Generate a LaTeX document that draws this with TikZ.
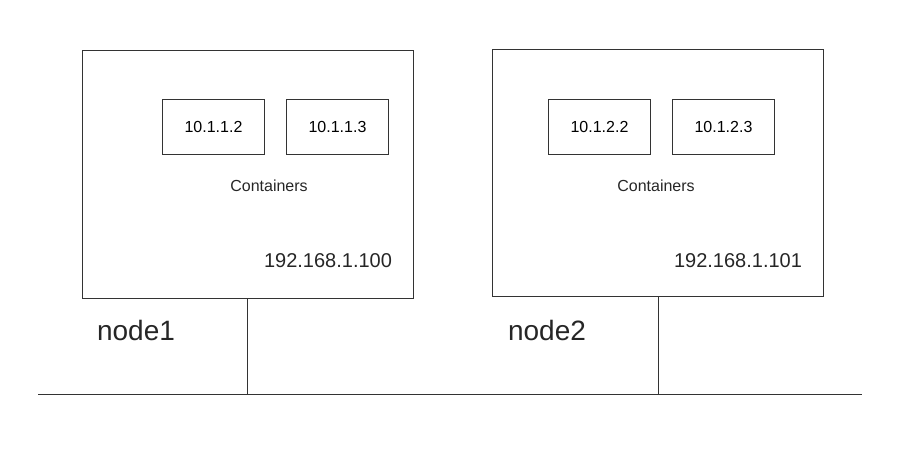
\documentclass[tikz,border=0pt]{standalone}
\usepackage{fontspec}
\setmainfont{Liberation Sans}
\usetikzlibrary{positioning}
\tikzset{
  host/.style={rectangle, draw=black!80, line width=1pt, minimum width=331pt, minimum height=247pt},
  container/.style={rectangle, draw=black!80, line width=1pt, minimum width=102pt, minimum height=55pt, font=\fontsize{16}{19}\selectfont},
  label/.style={font=\fontsize{16}{19}\selectfont, text=black!85},
  ipaddr/.style={font=\fontsize{20}{24}\selectfont, text=black!85},
  hostname/.style={font=\fontsize{28}{32}\selectfont, text=black!85},
  wire/.style={draw=black!80, line width=1pt}
}
\begin{document}
\begin{tikzpicture}[x=1pt, y=-1pt]
    \useasboundingbox (0,0) rectangle (913,452);

    % --- Hosts ---
    \node (host1) [host] at (247.5,174.5) {};
    \node (host2) [host] at (658,173) {};

    % --- Containers in host 1 ---
    \node (c11) [container] at (213.5,126.5) {10.1.1.2};
    \node (c12) [container, right=21pt of c11] {10.1.1.3};
    \node (cont1) [label] at (269,186) {Containers};
    \node (ip1) [ipaddr] at (328,261) {192.168.1.100};

    % --- Containers in host 2 ---
    \node (c21) [container] at (599.5,126.5) {10.1.2.2};
    \node (c22) [container, right=21pt of c21] {10.1.2.3};
    \node (cont2) [label] at (656,186) {Containers};
    \node (ip2) [ipaddr] at (738,261) {192.168.1.101};

    % --- Host names ---
    \node (name1) [hostname] at (136,330) {node1};
    \node (name2) [hostname] at (547,330) {node2};

    % --- Network ---
    \coordinate (busL) at (38,394);
    \coordinate (busR) at (862,394);
    \draw [wire] (busL) -- (busR);
    \draw [wire] (host1.south) -- (host1.south |- busL);
    \draw [wire] (host2.south) -- (host2.south |- busL);

\end{tikzpicture}
\end{document}
